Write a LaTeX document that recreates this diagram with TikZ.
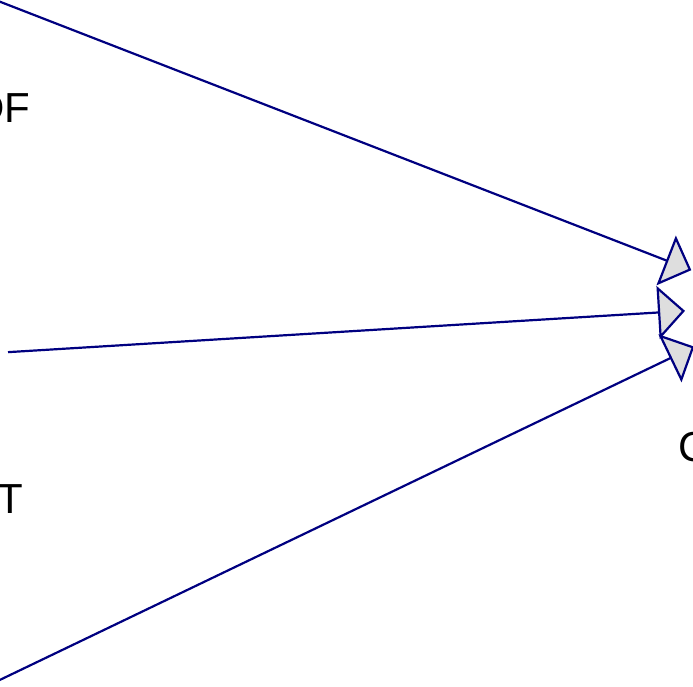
\documentclass[tikz,border=0pt]{standalone}
\usepackage{fontspec}
\setmainfont{Liberation Sans}
\usetikzlibrary{arrows.meta}
\definecolor{edgeblue}{RGB}{0,0,128}
\definecolor{tipfill}{RGB}{222,222,222}
\tikzset{
  hub/.style={circle, draw=none, minimum size=192pt, inner sep=0pt},
  lbl/.style={inner sep=0pt, font=\fontsize{42}{50}\selectfont, text=black},
  link/.style={draw=edgeblue, line width=2.2pt,
    -{Triangle[length=27pt, width=53pt, fill=tipfill, line join=miter]}},
}
\begin{document}
\begin{tikzpicture}[x=1pt, y=-1pt]
  \clip (0,0) rectangle (693,686);
  % nodes (mostly outside the visible frame)
  \node[hub] (src1) at (-92,-34) {};
  \node[hub] (src2) at (-88,358) {};
  \node[hub] (src3) at (-92,724) {};
  \node[hub] (tgt)  at (781,305) {};
  % labels
  \node[lbl, anchor=base west] (lab1) at (-25.7,122) {DF};
  \node[lbl, anchor=base west] (lab2) at (-2.7,513) {T};
  \node[lbl, anchor=base west] (lab3) at (678.5,461) {C};
  % connectors
  \draw[link] (src1) -- (tgt);
  \draw[link] (src2) -- (tgt);
  \draw[link] (src3) -- (tgt);
\end{tikzpicture}
\end{document}
